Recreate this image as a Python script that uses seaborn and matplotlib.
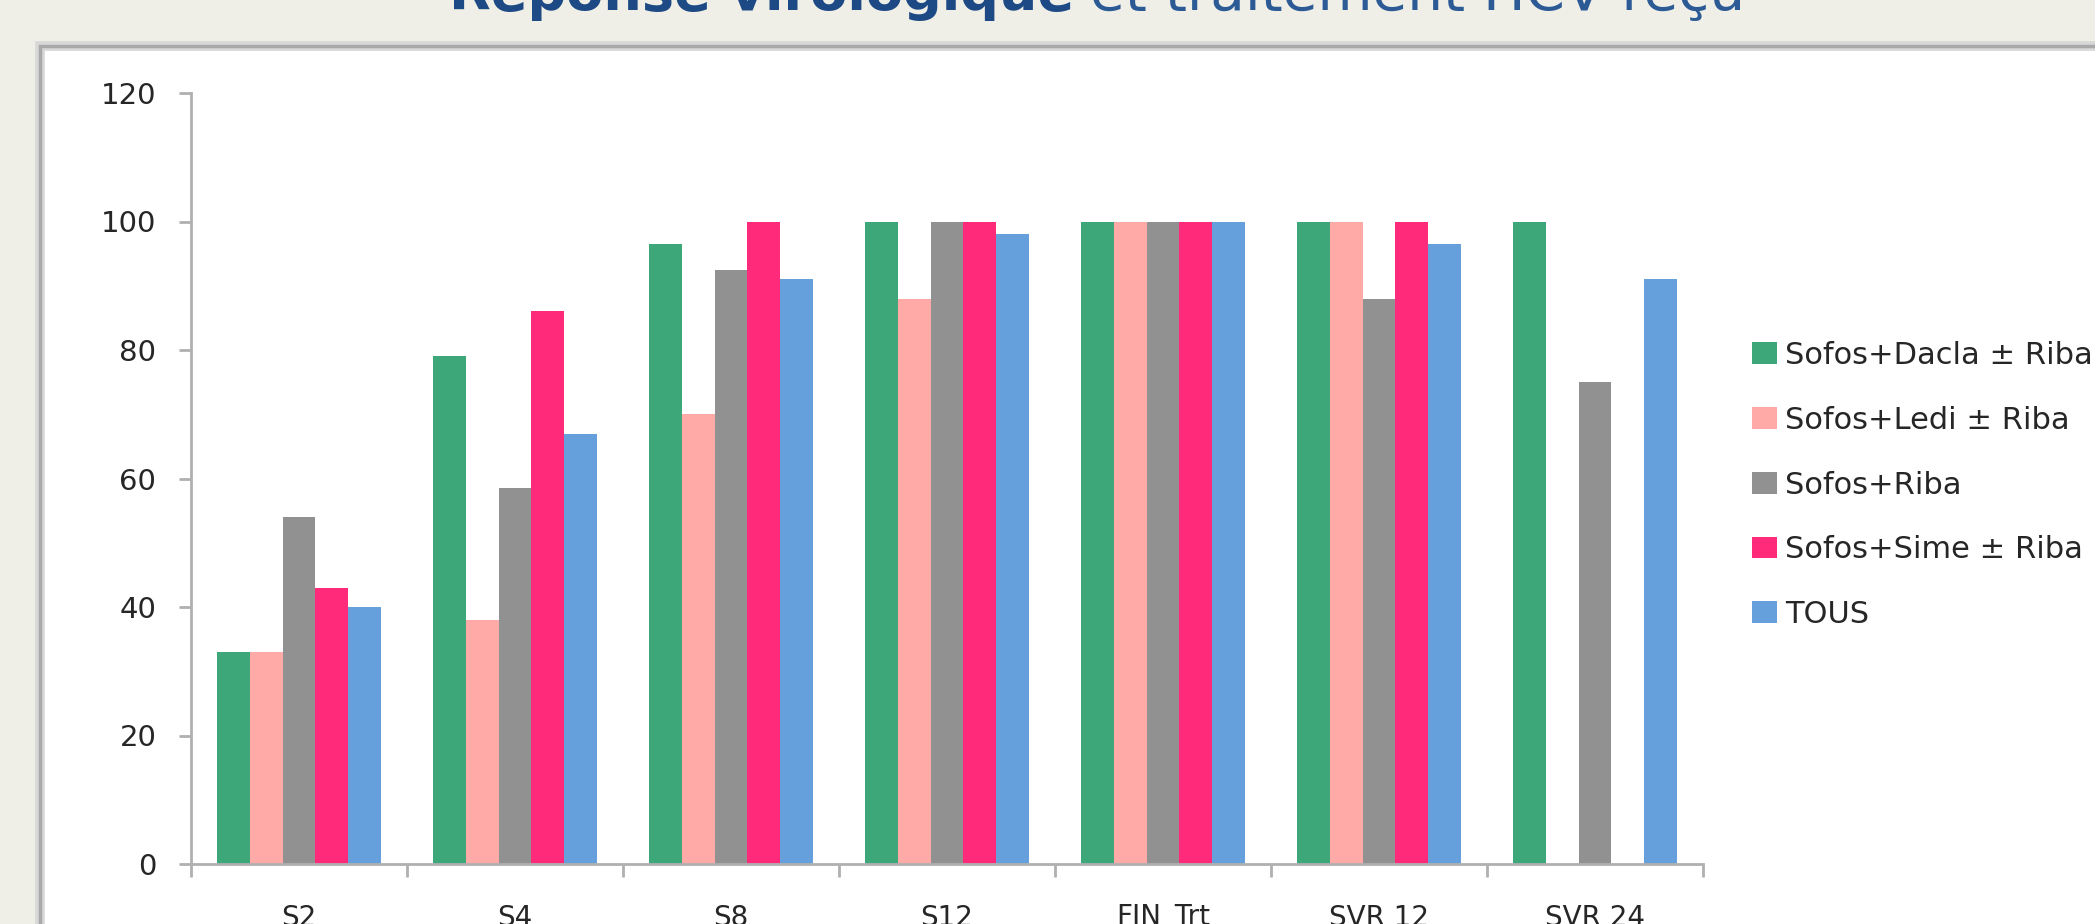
import numpy as np
import pandas as pd
import matplotlib
matplotlib.use("Agg")
import matplotlib.pyplot as plt
import seaborn as sns
from matplotlib.patches import Rectangle, Patch
from matplotlib.ticker import FixedLocator

# ==========================
# DATA
# ==========================
semaines = ["S2", "S4", "S8", "S12", "FIN_Trt", "SVR 12", "SVR 24"]
groupes = ["Sofos+Dacla ± Riba", "Sofos+Ledi ± Riba", "Sofos+Riba",
           "Sofos+Sime ± Riba", "TOUS"]

dacla = [33, 79, 96.5, 100, 100, 100, 100]
ledi = [33, 38, 70, 88, 100, 100, np.nan]
riba = [54, 58.5, 92.5, 100, 100, 88, 75]
sime = [43, 86, 100, 100, 100, 100, np.nan]
tous = [40, 67, 91, 98, 100, 96.5, 91]

couleurs = ["#3da77a", "#ffaaa6", "#919191", "#ff2b7a", "#65a0dc"]

df = pd.DataFrame({
    "Semaine": semaines * 5,
    "Groupe": [g for g in groupes for _ in semaines],
    "Reponse": dacla + ledi + riba + sime + tous,
})

# ==========================
# FIGURE
# ==========================
W, H = 2095, 924
sns.set_style("white")
plt.rcParams["font.family"] = ["DejaVu Sans"]

fig = plt.figure(figsize=(W / 100, H / 100), dpi=100, facecolor="#efefe8")

# white panel with grey shadowed border (behind the axes)
px, py = 40 / W, 1 - 46 / H
fig.patches.append(Rectangle((px, -0.2), 1.5, py + 0.2, transform=fig.transFigure,
                             facecolor="white", edgecolor="#d8d8d8", linewidth=7, zorder=-2))
fig.patches.append(Rectangle((px, -0.2), 1.5, py + 0.2, transform=fig.transFigure,
                             facecolor="none", edgecolor="#a9a9a9", linewidth=2.5, zorder=-1))

ax = fig.add_axes([191 / W, 60 / H, (1703 - 191) / W, (864 - 93) / H])
ax.set_facecolor("none")

sns.barplot(data=df, x="Semaine", y="Reponse", hue="Groupe", order=semaines,
            hue_order=groupes, palette=couleurs, saturation=1, width=0.76,
            linewidth=0, legend=False, ax=ax)

axis_col = "#b0b0b0"
ax.set_ylim(0, 120)
ax.set_yticks(range(0, 121, 20))
ax.set_xlim(-0.5, 6.5)
ax.set_xticks(range(len(semaines)))
ax.set_xticklabels(semaines)
ax.xaxis.set_minor_locator(FixedLocator(np.arange(-0.5, 7, 1)))
ax.set_xlabel("")
ax.set_ylabel("")

for s in ["top", "right"]:
    ax.spines[s].set_visible(False)
for s in ["left", "bottom"]:
    ax.spines[s].set_color(axis_col)
    ax.spines[s].set_linewidth(2)

ax.tick_params(axis="x", which="major", bottom=True, length=0, pad=29,
               labelsize=20, labelcolor="#262626")
ax.tick_params(axis="x", which="minor", bottom=True, length=9, width=2,
               color=axis_col, direction="out")
ax.tick_params(axis="y", left=True, length=9, width=2, color=axis_col,
               direction="out", pad=16, labelsize=21, labelcolor="#262626")

# legend
handles = [Patch(facecolor=c, edgecolor="none") for c in couleurs]
ax.legend(handles, groupes, loc="upper left",
          bbox_to_anchor=(1752 / W, 1 - 341 / H), bbox_transform=fig.transFigure,
          frameon=False, fontsize=22, handlelength=0.82, handleheight=0.72,
          handletextpad=0.26, labelspacing=1.17, borderpad=0, borderaxespad=0,
          labelcolor="#262626")

# title (cut at the top of the picture)
t1 = fig.text(1074 / W, 1 - 10 / H, "Réponse virologique", ha="right", va="baseline",
              fontsize=38, fontweight="bold", color="#1d4a84")
t2 = fig.text(1090 / W, 1 - 10 / H, "et traitement HCV reçu", ha="left", va="baseline",
              fontsize=38, color="#2b5a95")

fig.canvas.draw()
r = fig.canvas.get_renderer()
t1.set_fontsize(t1.get_fontsize() * 625 / t1.get_window_extent(r).width)
t2.set_fontsize(t2.get_fontsize() * 654 / t2.get_window_extent(r).width)

fig.savefig("out.png", dpi=100, facecolor=fig.get_facecolor())
